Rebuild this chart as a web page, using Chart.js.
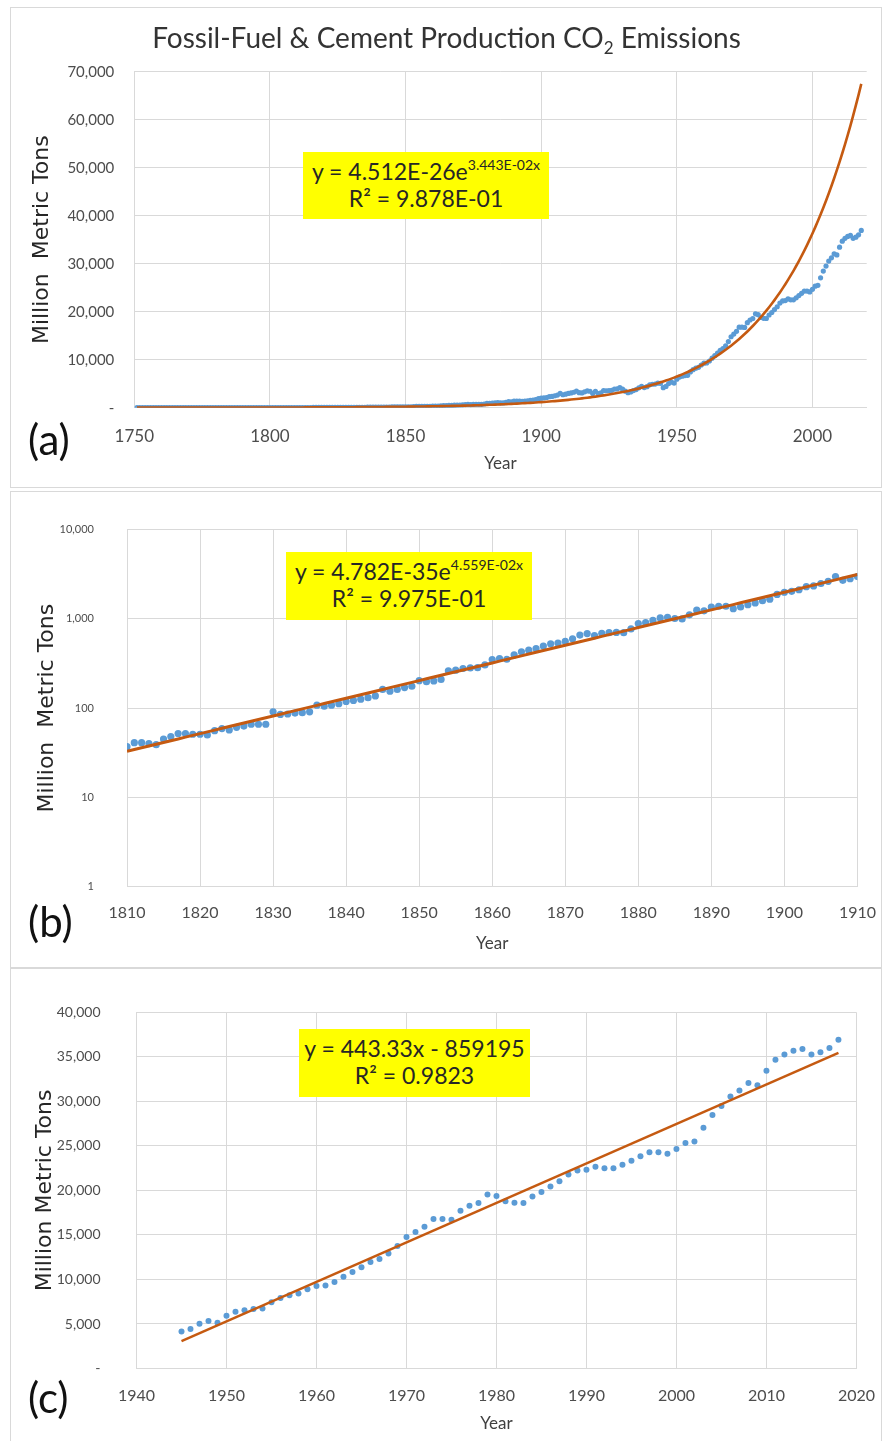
<!DOCTYPE html>
<html>
<head>
<meta charset="utf-8">
<script src="https://cdn.jsdelivr.net/npm/chart.js@4.4.0/dist/chart.umd.min.js"></script>
<style>
body{margin:0;background:#fff;width:893px;height:1441px;position:relative;overflow:hidden;font-family:Lato,sans-serif;}
.frame{position:absolute;border:1px solid #d9d9d9;box-sizing:border-box;}
canvas{position:absolute;left:0;}
.tag{position:absolute;font-family:Lato;font-size:42px;line-height:42px;color:#111;}
.fit{position:absolute;background:#ffff00;color:#262626;font-family:Lato;font-size:23px;line-height:27px;text-align:center;box-sizing:border-box;padding-top:6px;white-space:nowrap;}
.fit sup{font-size:14px;vertical-align:10px;line-height:0;}
#title{position:absolute;left:0;top:21px;width:893px;text-align:center;font-family:Lato;font-size:28px;line-height:32px;color:#333;}
#title sub{font-size:17px;vertical-align:-6px;line-height:0;}
</style>
</head>
<body>
<div class="frame" style="left:10px;top:7px;width:872px;height:481px"></div>
<div class="frame" style="left:10px;top:491px;width:872px;height:477px"></div>
<div class="frame" style="left:10px;top:968px;width:872px;height:480px"></div>

<canvas id="chartA" width="893" height="490" style="top:0"></canvas>
<canvas id="chartB" width="893" height="478" style="top:490px"></canvas>
<canvas id="chartC" width="893" height="473" style="top:968px"></canvas>

<div id="title">Fossil-Fuel &amp; Cement Production CO<sub>2</sub> Emissions</div>

<div class="fit" style="left:303px;top:152px;width:246px;height:67px">y = 4.512E-26e<sup>3.443E-02x</sup><br>R² = 9.878E-01</div>
<div class="fit" style="left:286px;top:552px;width:246px;height:68px">y = 4.782E-35e<sup>4.559E-02x</sup><br>R² = 9.975E-01</div>
<div class="fit" style="left:299px;top:1029px;width:231px;height:68px">y = 443.33x - 859195<br>R² = 0.9823</div>

<div class="tag" style="left:28px;top:418px">(a)</div>
<div class="tag" style="left:28px;top:900px">(b)</div>
<div class="tag" style="left:28px;top:1376px">(c)</div>

<script>
// annual emissions, million metric tons CO2
const emis1751to1809 = [
  11, 11, 11, 11, 11, 11, 11, 11, 11, 11,
  11, 11, 11, 11, 11, 11, 11, 11, 11, 11,
  15, 15, 15, 15, 15, 15, 15, 15, 15, 15,
  18, 18, 18, 18, 18, 18, 18, 18, 18, 18,
  22, 22, 22, 22, 26, 26, 26, 26, 26, 29,
  29, 29, 29, 29, 29, 33, 33, 33, 33
];
const emis1810to1910 = [
  37, 41, 41, 40, 39, 45, 48, 52, 52, 51,
  51, 50, 56, 59, 57, 61, 63, 66, 66, 66,
  91, 85, 86, 88, 89, 91, 108, 105, 108, 112,
  119, 122, 126, 131, 137, 162, 155, 162, 170, 176,
  203, 198, 202, 210, 262, 266, 278, 282, 284, 305,
  350, 359, 353, 395, 428, 446, 465, 496, 525, 537,
  559, 597, 658, 684, 650, 690, 700, 705, 700, 771,
  885, 907, 960, 1024, 1041, 1010, 1000, 1110, 1253, 1230,
  1359, 1385, 1385, 1300, 1360, 1439, 1510, 1598, 1664, 1878,
  1986, 2036, 2120, 2297, 2340, 2490, 2636, 2977, 2702, 2815,
  2977
];
const emis1911to1944 = [
  3070, 3220, 3460, 3120, 3070, 3300, 3500, 3430, 2960, 3420,
  2950, 3100, 3560, 3530, 3580, 3610, 3890, 3910, 4200, 3860,
  3450, 3110, 3280, 3570, 3770, 4140, 4430, 4190, 4370, 4760,
  4890, 4920, 5100, 5070
];
const emis1945to2018 = [
  4170, 4440, 5030, 5340, 5130, 5930, 6380, 6550, 6690, 6750,
  7450, 7930, 8240, 8420, 8900, 9280, 9310, 9730, 10320, 10840,
  11360, 11950, 12290, 12910, 13770, 14780, 15330, 15920, 16780, 16780,
  16720, 17710, 18270, 18580, 19550, 19370, 18790, 18610, 18580, 19310,
  19830, 20450, 21030, 21800, 22240, 22320, 22660, 22480, 22480, 22900,
  23350, 23830, 24290, 24290, 24110, 24660, 25320, 25490, 27050, 28470,
  29500, 30540, 31230, 32060, 31820, 33440, 34690, 35280, 35690, 35900,
  35280, 35520, 36010, 36940
];

// trendline coefficients as printed in the boxes
const expFitA = [4.512e-26, 3.443e-2];
const expFitB = [4.782e-35, 4.559e-2];
const linFitC = [443.33, -859195];

const logTicksB = [1, 10, 100, 1000, 10000];

const blue = '#5b9bd5', rust = '#c55a11', gridClr = '#d9d9d9', tickClr = '#4d4d4d';

const toPoints = (first, vals) => vals.map((v, i) => ({x: first + i, y: v}));
const ptsAll = toPoints(1751, emis1751to1809.concat(emis1810to1910, emis1911to1944, emis1945to2018));
const ptsB = toPoints(1810, emis1810to1910);
const ptsC = toPoints(1945, emis1945to2018);

const expTrend = (pts, f) => pts.map(p => ({x: p.x, y: f[0] * Math.exp(f[1] * p.x)}));
const trendA = expTrend(ptsAll, expFitA);
const trendB = expTrend(ptsB, expFitB);
const trendC = [ptsC[0], ptsC[ptsC.length - 1]].map(p => ({x: p.x, y: linFitC[0] * p.x + linFitC[1]}));

const fmt = v => v === 0 ? '-' : Number(v).toLocaleString('en-US');

function panel(id, o) {
  return new Chart(document.getElementById(id), {
    type: 'scatter',
    data: {
      datasets: [
        {data: o.trend, showLine: true, borderColor: rust, borderWidth: o.tw, pointRadius: 0, order: 0},
        {data: o.pts, backgroundColor: blue, borderColor: blue, borderWidth: 0, pointRadius: o.pr, order: 1}
      ]
    },
    options: {
      responsive: false,
      animation: false,
      layout: {padding: {left: 0, top: o.top, right: o.right, bottom: 0}},
      plugins: {legend: {display: false}, tooltip: {enabled: false}},
      scales: {
        x: {
          type: 'linear', min: o.xmin, max: o.xmax,
          ticks: {stepSize: o.xstep, includeBounds: false, color: tickClr,
                  font: {family: 'Lato', size: o.xfs}, padding: o.xpad, callback: v => String(v)},
          grid: {color: gridClr, drawTicks: false},
          border: {color: gridClr},
          title: {display: true, text: 'Year', color: '#404040',
                  font: {family: 'Lato', size: 17}, padding: {top: 0, bottom: o.yearPad}},
          afterFit: s => { s.height = o.xh; }
        },
        y: {
          type: o.ylog ? 'logarithmic' : 'linear', min: o.ymin, max: o.ymax,
          ticks: {stepSize: o.ystep, color: tickClr, font: {family: 'Lato', size: o.yfs},
                  padding: o.ypad, callback: v => fmt(v)},
          afterBuildTicks: o.ylog ? (s => { s.ticks = logTicksB.map(v => ({value: v})); }) : undefined,
          grid: {color: gridClr, drawTicks: false},
          border: {color: gridClr},
          title: {display: true, text: o.ytitle, color: '#262626',
                  font: {family: 'DejaVu Sans', size: 22}, padding: {top: o.titlePad, bottom: 0}},
          afterFit: s => { s.width = o.yw; }
        }
      }
    }
  });
}

panel('chartA', {
  pts: ptsAll, trend: trendA, pr: 2.6, tw: 2.6,
  top: 71.7, right: 26.3, yw: 134.3, xh: 82.3,
  xmin: 1750, xmax: 2020, xstep: 50, xfs: 17, xpad: 19, yearPad: 16,
  ymin: 0, ymax: 70000, ystep: 10000, yfs: 15, ypad: 20,
  ytitle: 'Million  Metric Tons', titlePad: 29.5
});

panel('chartB', {
  pts: ptsB, trend: trendB, pr: 3.6, tw: 3,
  top: 16, right: 24.7, yw: 127, xh: 81.3,
  xmin: 1810, xmax: 1910, xstep: 10, xfs: 16, xpad: 17, yearPad: 14.5,
  ylog: true, ymin: 1, ymax: 10000, yfs: 11, ypad: 33,
  ytitle: 'Million  Metric Tons', titlePad: 33.8
});

panel('chartC', {
  pts: ptsC, trend: trendC, pr: 3, tw: 2.5,
  top: 16, right: 23, yw: 136.5, xh: 72.5,
  xmin: 1940, xmax: 2020, xstep: 10, xfs: 16, xpad: 18, yearPad: 7,
  ymin: 0, ymax: 40000, ystep: 5000, yfs: 14, ypad: 36,
  ytitle: 'Million Metric Tons', titlePad: 32.3
});
</script>
</body>
</html>
